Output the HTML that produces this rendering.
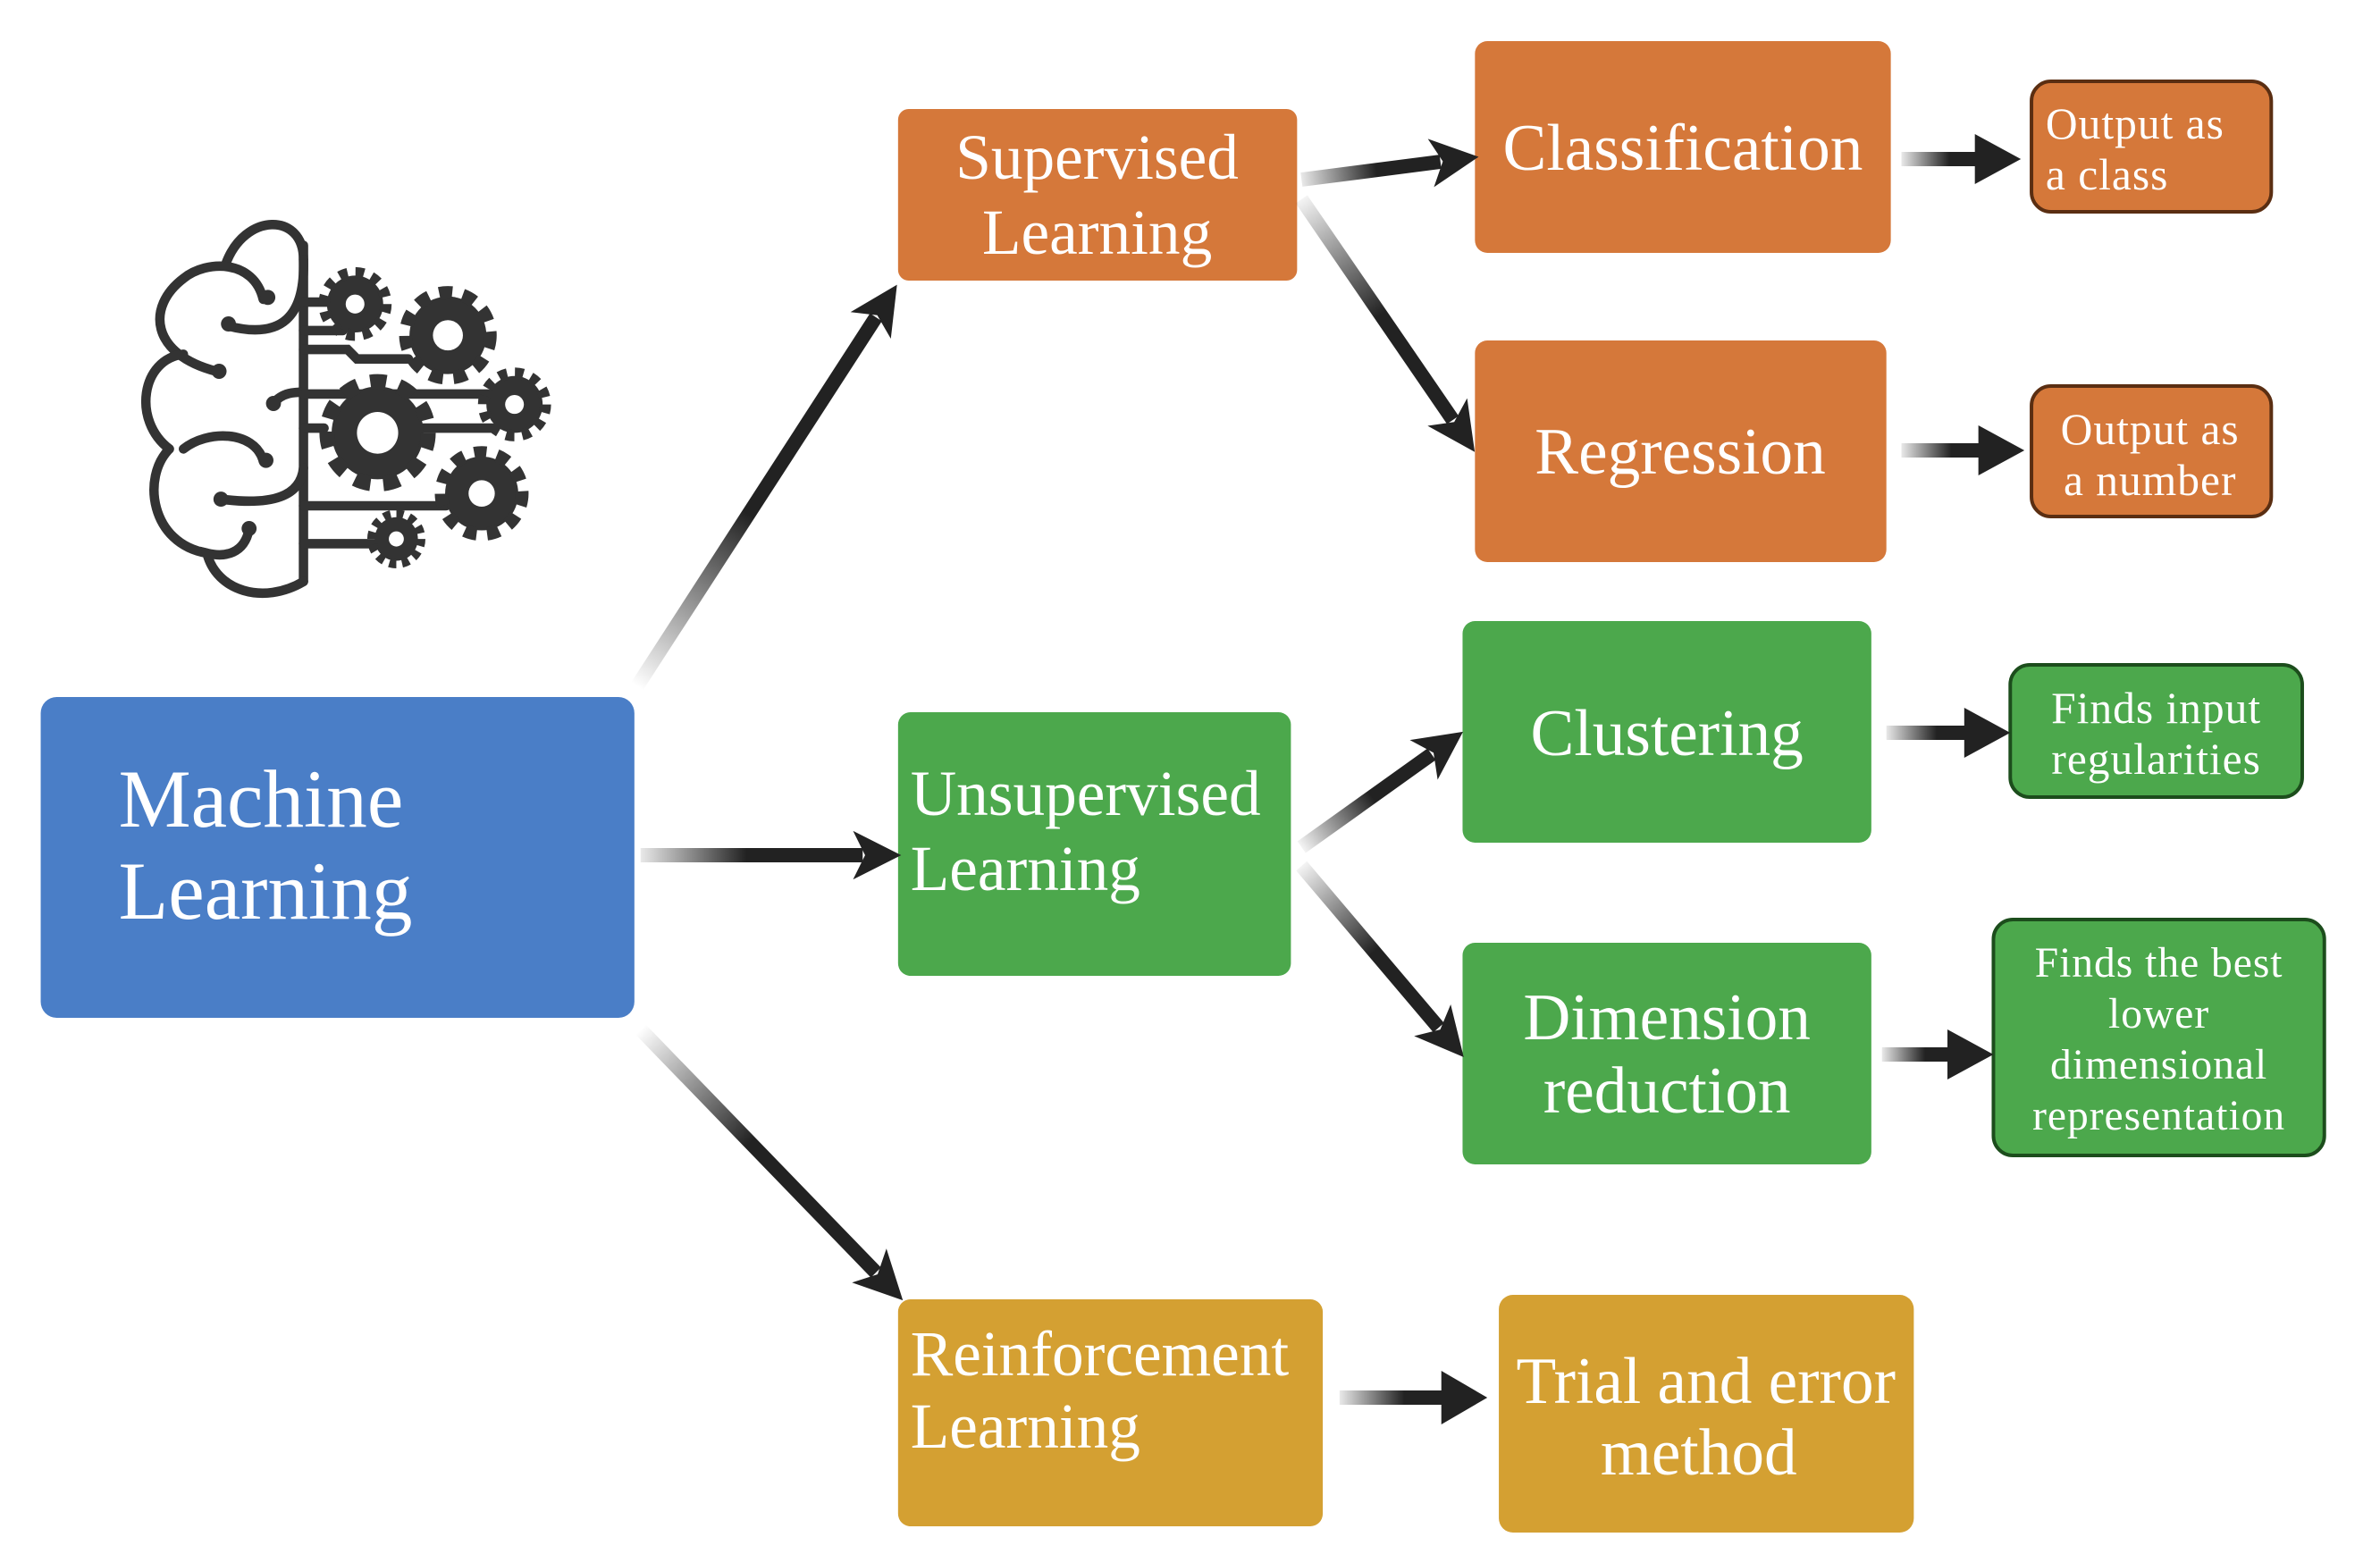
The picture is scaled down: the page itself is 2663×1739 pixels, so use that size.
<!DOCTYPE html>
<html><head><meta charset="utf-8"><style>
html,body{margin:0;padding:0;background:#fff;}
svg{display:block;}
text{font-family:"Liberation Serif","Times New Roman","DejaVu Serif",serif;fill:#fff;}
</style></head><body>
<svg width="2663" height="1739" viewBox="0 0 2663 1739" xmlns="http://www.w3.org/2000/svg" font-family="Liberation Serif, Times New Roman, DejaVu Serif, serif">
<defs>
<marker id="ah" viewBox="0 0 10 10" refX="2" refY="5" markerWidth="3.6" markerHeight="3.4" orient="auto" markerUnits="strokeWidth">
<path d="M0,0 L10,5 L0,10 L2.5,5 z" fill="#222"/>
</marker>
<linearGradient id="g1" gradientUnits="userSpaceOnUse" x1="720" y1="768" x2="1000" y2="340"><stop offset="0" stop-color="#222" stop-opacity="0"/><stop offset="0.45" stop-color="#222"/></linearGradient>
<linearGradient id="g2" gradientUnits="userSpaceOnUse" x1="724" y1="957" x2="990" y2="957"><stop offset="0" stop-color="#222" stop-opacity="0.1"/><stop offset="0.45" stop-color="#222"/></linearGradient>
<linearGradient id="g3" gradientUnits="userSpaceOnUse" x1="724" y1="1152" x2="1000" y2="1432"><stop offset="0" stop-color="#222" stop-opacity="0"/><stop offset="0.45" stop-color="#222"/></linearGradient>
<linearGradient id="g4" gradientUnits="userSpaceOnUse" x1="1471" y1="201" x2="1640" y2="180"><stop offset="0" stop-color="#222" stop-opacity="0.1"/><stop offset="0.5" stop-color="#222"/></linearGradient>
<linearGradient id="g5" gradientUnits="userSpaceOnUse" x1="1471" y1="223" x2="1650" y2="482"><stop offset="0" stop-color="#222" stop-opacity="0.05"/><stop offset="0.5" stop-color="#222"/></linearGradient>
<linearGradient id="g6" gradientUnits="userSpaceOnUse" x1="1471" y1="948" x2="1630" y2="835"><stop offset="0" stop-color="#222" stop-opacity="0.05"/><stop offset="0.5" stop-color="#222"/></linearGradient>
<linearGradient id="g7" gradientUnits="userSpaceOnUse" x1="1471" y1="969" x2="1636" y2="1160"><stop offset="0" stop-color="#222" stop-opacity="0.05"/><stop offset="0.5" stop-color="#222"/></linearGradient>
<linearGradient id="gh" gradientUnits="objectBoundingBox" x1="0" y1="0" x2="1" y2="0"><stop offset="0" stop-color="#222" stop-opacity="0.1"/><stop offset="0.6" stop-color="#222"/></linearGradient>
</defs>
<g transform="matrix(0.99 0 0 1 0 0)">
<!-- brain icon -->
<g transform="translate(343,460) scale(1.06) translate(-343,-460)">
<g stroke="#333" stroke-width="10" fill="none" stroke-linecap="round">
<line x1="343" y1="285" x2="343" y2="640"/>
<path d="M343,300 C343,250 280,250 260,305"/>
<path d="M300,342 C290,300 240,300 215,320 C175,350 180,400 250,418"/>
<path d="M343,300 C345,360 320,385 262,370"/>
<path d="M215,400 C170,405 160,470 200,500"/>
<path d="M311,452 C320,440 335,440 343,440"/>
<path d="M200,500 C170,530 180,600 240,610"/>
<path d="M300,512 C290,480 240,480 215,500"/>
<path d="M343,520 C340,550 310,560 255,553"/>
<path d="M285,585 C280,610 260,615 240,610 C250,650 300,665 343,640"/>
<line x1="343" y1="345" x2="380" y2="345"/>
<line x1="343" y1="375" x2="385" y2="375"/>
<path d="M343,395 L390,395 L400,405 L455,405"/>
<line x1="343" y1="442" x2="540" y2="442"/>
<line x1="343" y1="478" x2="365" y2="478"/>
<line x1="460" y1="478" x2="545" y2="478"/>
<line x1="343" y1="560" x2="495" y2="560"/>
<line x1="343" y1="600" x2="420" y2="600"/>
</g>
<g fill="#333">
<circle cx="305" cy="340" r="8"/><circle cx="263" cy="368" r="8"/><circle cx="253" cy="418" r="8"/><circle cx="311" cy="452" r="8"/><circle cx="303" cy="512" r="8"/><circle cx="255" cy="553" r="8"/><circle cx="285" cy="584" r="8"/>
</g>
<g fill="#333" stroke="#333">
<g transform="translate(398,347)"><circle r="30" stroke="none"/><circle r="33" fill="none" stroke-width="12" stroke-dasharray="9 8.3"/><circle r="10" fill="#fff" stroke="none"/></g>
<g transform="translate(497,380)"><circle r="41" stroke="none"/><circle r="45" fill="none" stroke-width="14" stroke-dasharray="14 11.3"/><circle r="16" fill="#fff" stroke="none"/></g>
<g transform="translate(422,483)"><circle r="49" stroke="none"/><circle r="54" fill="none" stroke-width="16" stroke-dasharray="17 13.8"/><circle r="22" fill="#fff" stroke="none"/></g>
<g transform="translate(568,453)"><circle r="30" stroke="none"/><circle r="33" fill="none" stroke-width="12" stroke-dasharray="9 8.3"/><circle r="10" fill="#fff" stroke="none"/></g>
<g transform="translate(533,547)"><circle r="39" stroke="none"/><circle r="43" fill="none" stroke-width="14" stroke-dasharray="13 11.3"/><circle r="14" fill="#fff" stroke="none"/></g>
<g transform="translate(442,595)"><circle r="23" stroke="none"/><circle r="26" fill="none" stroke-width="10" stroke-dasharray="7.5 6.1"/><circle r="8" fill="#fff" stroke="none"/></g>
</g>
</g>

<!-- boxes -->
<rect x="46" y="780" width="671" height="359" rx="18" fill="#4A7EC7"/>
<rect x="1015" y="122" width="451" height="192" rx="12" fill="#D5783A"/>
<rect x="1015" y="797" width="444" height="295" rx="14" fill="#4CA84C"/>
<rect x="1015" y="1454" width="480" height="254" rx="14" fill="#D4A032"/>
<rect x="1667" y="46" width="470" height="237" rx="14" fill="#D5783A"/>
<rect x="1667" y="381" width="465" height="248" rx="14" fill="#D5783A"/>
<rect x="1653" y="695" width="462" height="248" rx="14" fill="#4CA84C"/>
<rect x="1653" y="1055" width="462" height="248" rx="14" fill="#4CA84C"/>
<rect x="1694" y="1449" width="469" height="266" rx="16" fill="#D4A032"/>
<rect x="2296" y="91" width="271" height="146" rx="22" fill="#D5783A" stroke="#5a2e12" stroke-width="4"/>
<rect x="2296" y="432" width="271" height="146" rx="22" fill="#D5783A" stroke="#5a2e12" stroke-width="4"/>
<rect x="2272" y="744" width="330" height="148" rx="22" fill="#4CA84C" stroke="#1c4d1c" stroke-width="4"/>
<rect x="2253" y="1029" width="374" height="264" rx="22" fill="#4CA84C" stroke="#1c4d1c" stroke-width="4"/>

<!-- text -->
<text x="134" y="925" font-size="92">Machine</text>
<text x="134" y="1028" font-size="92">Learning</text>
<text x="1240" y="200" font-size="72" text-anchor="middle">Supervised</text>
<text x="1240" y="284" font-size="72" text-anchor="middle">Learning</text>
<text x="1029" y="912" font-size="72">Unsupervised</text>
<text x="1029" y="996" font-size="72">Learning</text>
<text x="1029" y="1539" font-size="72">Reinforcement</text>
<text x="1029" y="1620" font-size="72">Learning</text>
<text x="1902" y="190" font-size="74" text-anchor="middle">Classification</text>
<text x="1899" y="530" font-size="74" text-anchor="middle">Regression</text>
<text x="1884" y="845" font-size="74" text-anchor="middle">Clustering</text>
<text x="1884" y="1163" font-size="74" text-anchor="middle">Dimension</text>
<text x="1884" y="1245" font-size="74" text-anchor="middle">reduction</text>
<text x="1928" y="1570" font-size="74" text-anchor="middle">Trial and error</text>
<text x="1920" y="1650" font-size="74" text-anchor="middle">method</text>
<text x="2312" y="155" font-size="50" letter-spacing="1">Output as</text>
<text x="2312" y="212" font-size="50" letter-spacing="1">a class</text>
<text x="2430" y="497" font-size="50" letter-spacing="1" text-anchor="middle">Output as</text>
<text x="2430" y="554" font-size="50" letter-spacing="1" text-anchor="middle">a number</text>
<text x="2437" y="809" font-size="50" letter-spacing="1" text-anchor="middle">Finds input</text>
<text x="2437" y="866" font-size="50" letter-spacing="1" text-anchor="middle">regularities</text>
<text x="2440" y="1093" font-size="48" letter-spacing="1" text-anchor="middle">Finds the best</text>
<text x="2440" y="1150" font-size="48" letter-spacing="1" text-anchor="middle">lower</text>
<text x="2440" y="1207" font-size="48" letter-spacing="1" text-anchor="middle">dimensional</text>
<text x="2440" y="1264" font-size="48" letter-spacing="1" text-anchor="middle">representation</text>

<!-- arrows -->
<g stroke-width="16" fill="none" marker-end="url(#ah)">
<line x1="720" y1="768" x2="990" y2="355" stroke="url(#g1)"/>
<line x1="724" y1="957" x2="975" y2="957" stroke="url(#g2)"/>
<line x1="724" y1="1152" x2="990" y2="1424" stroke="url(#g3)"/>
<line x1="1471" y1="201" x2="1628" y2="181" stroke="url(#g4)"/>
<line x1="1471" y1="223" x2="1642" y2="470" stroke="url(#g5)"/>
<line x1="1471" y1="948" x2="1618" y2="844" stroke="url(#g6)"/>
<line x1="1471" y1="969" x2="1626" y2="1150" stroke="url(#g7)"/>
</g>
<g fill="#222">
<rect x="2149" y="170" width="90" height="16" fill="url(#gh)"/><path d="M2232,150 L2284,178 L2232,206 z"/>
<rect x="2149" y="496" width="94" height="16" fill="url(#gh)"/><path d="M2236,476 L2288,504 L2236,532 z"/>
<rect x="2132" y="812" width="95" height="16" fill="url(#gh)"/><path d="M2220,792 L2272,820 L2220,848 z"/>
<rect x="2127" y="1172" width="81" height="16" fill="url(#gh)"/><path d="M2201,1152 L2253,1180 L2201,1208 z"/>
<rect x="1514" y="1556" width="122" height="16" fill="url(#gh)"/><path d="M1629,1534 L1681,1564 L1629,1594 z"/>
</g>
</g>
</svg>
</body></html>
